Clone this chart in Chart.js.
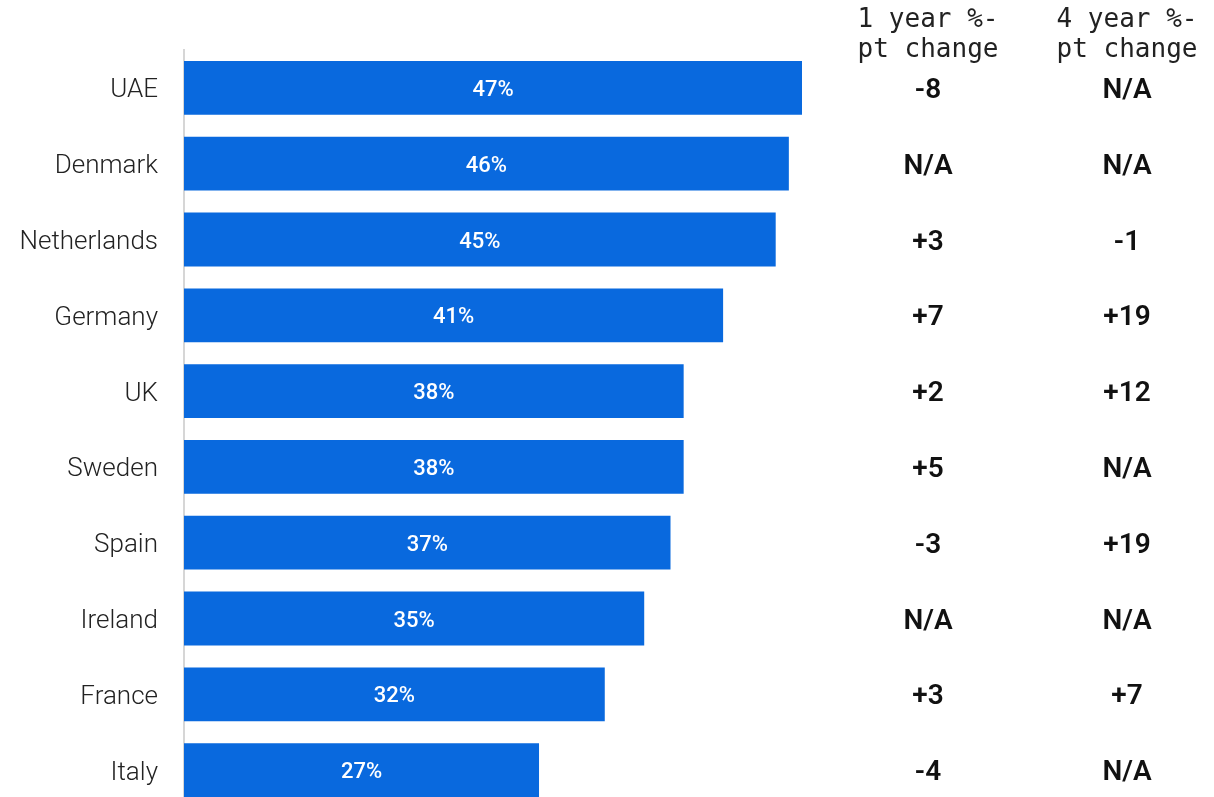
<!DOCTYPE html>
<html>
<head>
<meta charset="utf-8">
<script src="https://cdn.jsdelivr.net/npm/chart.js@4.4.1/dist/chart.umd.min.js"></script>
<style>
html,body{margin:0;padding:0;background:#fff;overflow:hidden;}
#wrap{width:1214px;height:808px;position:relative;}
canvas{display:block;}
</style>
</head>
<body>
<div id="wrap"><canvas id="c" width="1214" height="808" style="width:1214px;height:808px"></canvas></div>
<script>
const categories = ["UAE","Denmark","Netherlands","Germany","UK","Sweden","Spain","Ireland","France","Italy"];
const shareValues = [47,46,45,41,38,38,37,35,32,27];
const oneYearChange = ["-8","N/A","+3","+7","+2","+5","-3","N/A","+3","-4"];
const fourYearChange = ["N/A","N/A","-1","+19","+12","N/A","+19","N/A","+7","N/A"];
const columnHeaders = [["1 year %-","pt change"],["4 year %-","pt change"]];

const barColor = "#0969DE";

const overlay = {
  id: "overlay",
  afterDatasetsDraw(chart) {
    const ctx = chart.ctx;
    const meta = chart.getDatasetMeta(0);
    const yScale = chart.scales.y;
    ctx.save();
    ctx.fillStyle = "#ffffff";
    ctx.font = "500 22px Roboto";
    ctx.textAlign = "center";
    ctx.textBaseline = "alphabetic";
    meta.data.forEach((bar, i) => {
      const x = (bar.base + bar.x) / 2;
      ctx.fillText(shareValues[i] + "%", x, bar.y + 8);
    });
    const colX = [928, 1127];
    ctx.fillStyle = "#111111";
    ctx.font = "600 28px Roboto";
    categories.forEach((c, i) => {
      const y = yScale.getPixelForValue(i) + 10;
      ctx.fillText(oneYearChange[i], colX[0], y);
      ctx.fillText(fourYearChange[i], colX[1], y);
    });
    ctx.fillStyle = "#222222";
    ctx.font = "400 26px 'DejaVu Sans Mono'";
    columnHeaders.forEach((h, k) => {
      ctx.fillText(h[0], colX[k], 27);
      ctx.fillText(h[1], colX[k], 57);
    });
    ctx.restore();
  }
};

new Chart(document.getElementById("c"), {
  type: "bar",
  data: {
    labels: categories,
    datasets: [{
      data: shareValues,
      backgroundColor: barColor,
      borderWidth: 0,
      barPercentage: 0.71,
      categoryPercentage: 1.0
    }]
  },
  options: {
    indexAxis: "y",
    responsive: false,
    maintainAspectRatio: false,
    animation: false,
    devicePixelRatio: 1,
    layout: { padding: { top: 50, right: 412, bottom: 0, left: 0 } },
    plugins: { legend: { display: false }, tooltip: { enabled: false } },
    scales: {
      x: { display: false, min: 0, max: 47 },
      y: {
        grid: { display: false, drawTicks: false },
        border: { display: true, color: "#d6d6d6", width: 2 },
        ticks: { color: "#222222", font: { family: "Roboto", size: 26, weight: 300 }, padding: 26, labelOffset: 3 },
        afterFit(scale) { scale.width = 184; scale.paddingTop = 0; scale.paddingBottom = 0; }
      }
    }
  },
  plugins: [overlay]
});
</script>
</body>
</html>
